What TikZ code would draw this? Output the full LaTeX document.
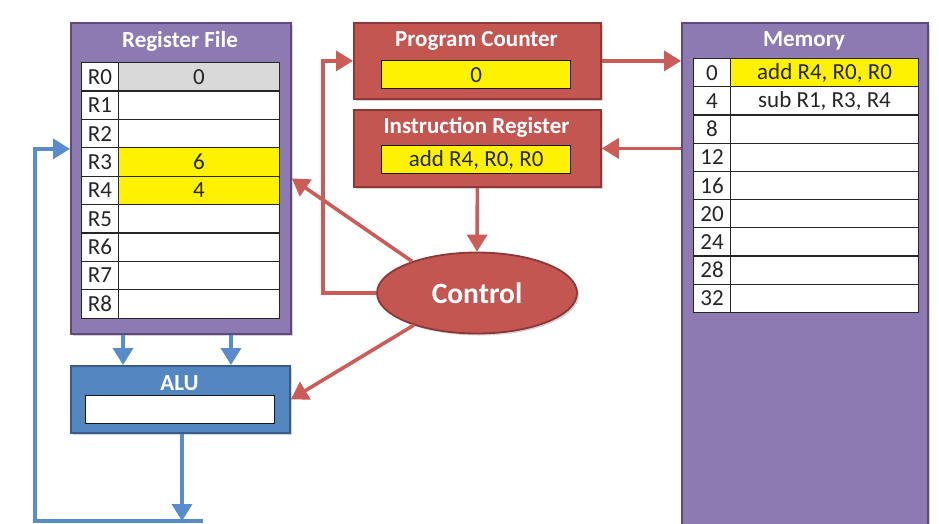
\documentclass[tikz,border=0pt]{standalone}
\usepackage{fontspec}
\setmainfont{Carlito}
\usetikzlibrary{arrows.meta,shapes.geometric,shadows}
\definecolor{purpfill}{RGB}{141,122,178}
\definecolor{purpline}{RGB}{96,74,123}
\definecolor{redfill}{RGB}{196,86,82}
\definecolor{redline}{RGB}{140,56,54}
\definecolor{redarr}{RGB}{204,92,88}
\definecolor{bluefill}{RGB}{84,134,194}
\definecolor{blueline}{RGB}{56,93,138}
\definecolor{bluearr}{RGB}{88,140,202}
\definecolor{graycell}{RGB}{217,217,217}
\tikzset{
  shad/.style={drop shadow={opacity=0.35,shadow xshift=2pt,shadow yshift=-2pt}},
  purplebox/.style={shad,fill=purpfill,draw=purpline,line width=1.8pt,anchor=north west,inner sep=0pt},
  redbox/.style={shad,fill=redfill,draw=redline,line width=1.8pt,anchor=north west,inner sep=0pt},
  bluebox/.style={shad,fill=bluefill,draw=blueline,line width=1.8pt,anchor=north west,inner sep=0pt},
  boxtitle/.style={text=white,font=\fontsize{23}{26}\selectfont\bfseries},
  cell/.style={draw=black!85,line width=1.1pt,fill=white,inner sep=0pt,anchor=north west,font=\fontsize{23}{24}\selectfont,text=black!85},
  field/.style={draw=black!90,line width=1.4pt,fill=yellow,inner sep=0pt,anchor=north west,font=\fontsize{23}{24}\selectfont,text=black!85},
  redarrow/.style={draw=redarr,line width=3.6pt,-{Triangle[length=17pt,width=20pt]}},
  bluearrow/.style={draw=bluearr,line width=3.6pt,-{Triangle[length=17pt,width=20pt]}},
}
\begin{document}
\begin{tikzpicture}[x=1pt,y=-1pt]
\useasboundingbox (0,0) rectangle (939,523);
% Register file
\node[purplebox,minimum width=220pt,minimum height=311pt] (rf) at (70,22) {};
\node[boxtitle] (rft) at (180,41) {Register File};
\foreach \i/\v in {0/0,1/,2/,3/6,4/4,5/,6/,7/,8/} {
  \node[cell,minimum width=37pt,minimum height=28.4pt] (rl\i) at (81,62+28.4*\i) {R\i};
  \node[cell,minimum width=161pt,minimum height=28.4pt] (rv\i) at (118,62+28.4*\i) {\v};
}
\node[cell,fill=graycell,minimum width=161pt,minimum height=28.4pt] at (118,62) {0};
\node[cell,fill=yellow,minimum width=161pt,minimum height=28.4pt] at (118,62+28.4*3) {6};
\node[cell,fill=yellow,minimum width=161pt,minimum height=28.4pt] at (118,62+28.4*4) {4};
% Program counter
\node[redbox,minimum width=247pt,minimum height=76pt] (pc) at (353,22) {};
\node[boxtitle] (pct) at (476.5,41) {Program Counter};
\node[field,minimum width=189pt,minimum height=28pt] (pcf) at (381,60) {0};
% Instruction register
\node[redbox,minimum width=247pt,minimum height=77pt] (ir) at (353,109) {};
\node[boxtitle] (irt) at (476.5,127) {Instruction Register};
\node[field,minimum width=189pt,minimum height=28pt] (irf) at (381,145) {add R4, R0, R0};
% Memory
\node[purplebox,minimum width=246pt,minimum height=540pt] (mem) at (681,22) {};
\node[boxtitle] (memt) at (804,41) {Memory};
\foreach \i/\a/\v in {0/0/{},1/4/{sub R1, R3, R4},2/8/{},3/12/{},4/16/{},5/20/{},6/24/{},7/28/{},8/32/{}} {
  \node[cell,minimum width=37pt,minimum height=28.2pt] (ml\i) at (693,58+28.2*\i) {\a};
  \node[cell,minimum width=188pt,minimum height=28.2pt] (mv\i) at (730,58+28.2*\i) {\v};
}
\node[cell,fill=yellow,minimum width=188pt,minimum height=28.2pt] at (730,58) {add R4, R0, R0};
% ALU
\node[bluebox,minimum width=219pt,minimum height=67pt] (alu) at (70,365) {};
\node[boxtitle] (alut) at (179.5,383) {ALU};
\node[field,fill=white,minimum width=189pt,minimum height=28pt] (aluf) at (85,395) {};
% Control
\node[shad,ellipse,fill=redfill,draw=redline,line width=1.8pt,minimum width=200pt,minimum height=81pt,text=white,font=\fontsize{29.5}{32}\selectfont\bfseries] (ctl) at (477,293) {Control};
% coordinates
\coordinate (c1) at (323,293);
\coordinate (bot) at (182,521);
\coordinate (fbL) at (35,521);
\coordinate (fbR) at (203,521);
% red connectors
\draw[redarrow] (pc.east) -- (pc.east -| mem.west);
\draw[redarrow] (ir.east -| mem.west) -- (ir.east);
\draw[redarrow] (ir.south) -- (ctl.north);
\draw[redarrow] (ctl.west) -- (c1) |- (pc.west);
\draw[redarrow] (ctl.154) -- (rf.east);
\draw[redarrow] (ctl.207) -- (alu.east);
% blue connectors
\draw[bluearrow] ([xshift=53pt]rf.south west) -- ([xshift=53pt]alu.north west);
\draw[bluearrow] ([xshift=161pt]rf.south west) -- ([xshift=161pt]alu.north west);
\draw[bluearrow] (alu.south -| bot) -- (bot);
\draw[bluearrow] (fbR) -- (fbL) |- ([yshift=29.5pt]rf.west);
\end{tikzpicture}
\end{document}
